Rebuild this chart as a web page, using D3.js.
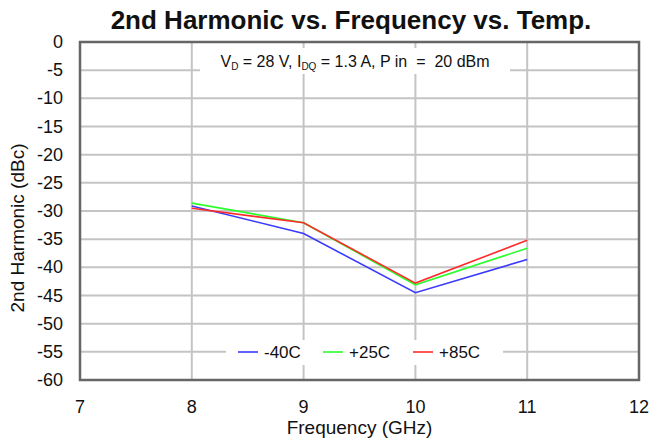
<!DOCTYPE html>
<html><head><meta charset="utf-8">
<script src="https://cdn.jsdelivr.net/npm/d3@7/dist/d3.min.js"></script>
<style>body{margin:0;background:#fff;} svg{display:block;font-family:"Liberation Sans",Arial,sans-serif;}</style>
</head><body><svg id="c" width="650" height="441"></svg>
<script>
const freqs = [8, 9, 10, 11];
const seriesNames = ["-40C", "+25C", "+85C"];
const seriesColors = ["#3a3aff", "#2aff2a", "#ff2a2a"];
const m40 = [-29.1, -34.0, -44.5, -38.6];
const p25 = [-28.6, -32.1, -43.1, -36.6];
const p85 = [-29.5, -32.1, -42.8, -35.2];
const xTicks = [7, 8, 9, 10, 11, 12];
const yTicks = [0, -5, -10, -15, -20, -25, -30, -35, -40, -45, -50, -55, -60];

const svg = d3.select("#c");
const L = 80, R = 639, T = 42, B = 380;
const x = d3.scaleLinear().domain([7, 12]).range([L, R]);
const y = d3.scaleLinear().domain([0, -60]).range([T, B]);

// grid
const g = svg.append("g");
g.selectAll("line.h").data(yTicks).join("line")
  .attr("x1", L).attr("x2", R).attr("y1", d => y(d)).attr("y2", d => y(d))
  .attr("stroke", "#c4c4c4").attr("stroke-width", 2);
g.selectAll("line.v").data(xTicks).join("line")
  .attr("y1", T).attr("y2", B).attr("x1", d => x(d)).attr("x2", d => x(d))
  .attr("stroke", "#c4c4c4").attr("stroke-width", 2);

// annotation box (white background)
svg.append("rect").attr("x", 200).attr("y", 48).attr("width", 310).attr("height", 26).attr("fill", "#fff");
const ann = svg.append("text").attr("x", 355).attr("y", 67).attr("text-anchor", "middle")
  .attr("font-size", 16).attr("fill", "#111").style("white-space", "pre");
ann.append("tspan").text("V");
ann.append("tspan").attr("font-size", 10).attr("dy", 3).text("D");
ann.append("tspan").attr("dy", -3).text(" = 28 V, I");
ann.append("tspan").attr("font-size", 10).attr("dy", 3).text("DQ");
ann.append("tspan").attr("dy", -3).text(" = 1.3 A, P in  =  20 dBm");

// series lines
const allSeries = [m40, p25, p85];
const line = d3.line().x((d, i) => x(freqs[i])).y(d => y(d));
allSeries.forEach((s, k) => {
  svg.append("path").datum(s).attr("d", line).attr("fill", "none")
    .attr("stroke", seriesColors[k]).attr("stroke-width", 1.6);
});

// legend
svg.append("rect").attr("x", 226).attr("y", 340).attr("width", 277).attr("height", 25).attr("fill", "#fff");
const legX = [238, 323, 413];
seriesNames.forEach((n, k) => {
  svg.append("line").attr("x1", legX[k]).attr("x2", legX[k] + 20).attr("y1", 352).attr("y2", 352)
    .attr("stroke", seriesColors[k]).attr("stroke-width", 1.6);
  svg.append("text").attr("x", legX[k] + 26).attr("y", 358).attr("font-size", 17).attr("fill", "#111").text(n);
});

// border
svg.append("rect").attr("x", L).attr("y", T).attr("width", R - L).attr("height", B - T)
  .attr("fill", "none").attr("stroke", "#666").attr("stroke-width", 2.5);

// axes labels
svg.selectAll("text.yt").data(yTicks).join("text").attr("class", "yt")
  .attr("x", 63).attr("y", d => y(d) + 6).attr("text-anchor", "end")
  .attr("font-size", 18).attr("fill", "#111").text(d => d);
svg.selectAll("text.xt").data(xTicks).join("text").attr("class", "xt")
  .attr("x", d => x(d)).attr("y", 413).attr("text-anchor", "middle")
  .attr("font-size", 18).attr("fill", "#111").text(d => d);

svg.append("text").attr("x", x(9.5)).attr("y", 434).attr("text-anchor", "middle")
  .attr("font-size", 19).attr("fill", "#111").text("Frequency (GHz)");
svg.append("text").attr("transform", `translate(24,228) rotate(-90)`)
  .attr("text-anchor", "middle").attr("font-size", 19).attr("fill", "#111").text("2nd Harmonic (dBc)");

svg.append("text").attr("x", 351).attr("y", 29).attr("text-anchor", "middle")
  .attr("font-size", 26).attr("font-weight", "bold").attr("fill", "#111").text("2nd Harmonic vs. Frequency vs. Temp.");
</script></body></html>
